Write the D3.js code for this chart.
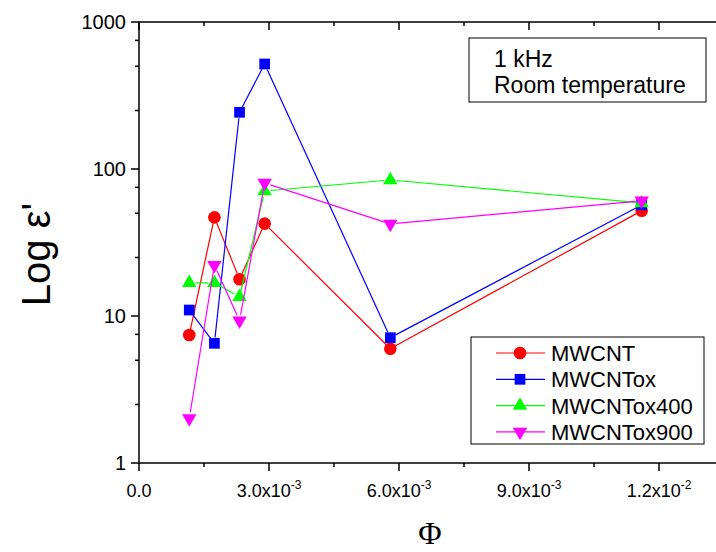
<!DOCTYPE html>
<html><head><meta charset="utf-8">
<script src="https://cdn.jsdelivr.net/npm/d3@7"></script>
<style>body{margin:0;background:#fff;} svg{display:block;font-family:Arial,"Liberation Sans",sans-serif;}</style>
</head><body>
<script>
const phi = [0.00116, 0.00174, 0.00232, 0.0029, 0.0058, 0.0116];
const mwcnt = [7.42, 46.9, 17.8, 42.5, 5.99, 52.0];
const mwcntox = [10.98, 6.52, 243, 518, 7.12, 57];
const mwcntox400 = [16.8, 16.8, 13.5, 70.8, 84.2, 58.7];
const mwcntox900 = [2.01, 22.2, 9.29, 80.3, 42.3, 60.8];
const seriesNames = ["MWCNT", "MWCNTox", "MWCNTox400", "MWCNTox900"];
const xTicks = [0, 0.003, 0.006, 0.009, 0.012];
const xTickLabels = [["0.0", ""], ["3.0x10", "-3"], ["6.0x10", "-3"], ["9.0x10", "-3"], ["1.2x10", "-2"]];
const yTicks = [1, 10, 100, 1000];
const infoLines = ["1 kHz", "Room temperature"];

const W = 716, H = 552;
const L = 139, T = 22, B = 463, R = 724;
const svg = d3.select("body").append("svg").attr("width", W).attr("height", H);

const x = d3.scaleLinear().domain([0, 0.0135]).range([L, R]);
const y = d3.scaleLog().domain([1, 1000]).range([B, T]);

const xMinor = d3.range(0, 0.0136, 0.0015).filter(v => Math.abs((v / 0.003) - Math.round(v / 0.003)) > 0.01);
const yMinor = [];
[1, 10, 100].forEach(d => [2.5, 5, 7.5].forEach(m => yMinor.push(d * m)));

// frame
svg.append("rect").attr("x", L).attr("y", T).attr("width", R - L).attr("height", B - T)
  .attr("fill", "none").attr("stroke", "#000").attr("stroke-width", 1.5);

function tickLines(g, vals, fn) {
  g.selectAll(null).data(vals).enter().append("line").each(function(d){ const c = fn(d); d3.select(this).attr("x1", c[0]).attr("y1", c[1]).attr("x2", c[2]).attr("y2", c[3]); })
    .attr("stroke", "#000").attr("stroke-width", 1.5);
}
const ax = svg.append("g");
tickLines(ax, xTicks, d => [x(d), B, x(d), B + 8]);
tickLines(ax, xMinor, d => [x(d), B, x(d), B + 4]);
tickLines(ax, xTicks, d => [x(d), T, x(d), T + 8]);
tickLines(ax, xMinor, d => [x(d), T, x(d), T + 4]);
tickLines(ax, yTicks, d => [L - 8, y(d), L, y(d)]);
tickLines(ax, yMinor, d => [L - 4, y(d), L, y(d)]);
tickLines(ax, yTicks, d => [R - 8, y(d), R, y(d)]);
tickLines(ax, yMinor, d => [R - 4, y(d), R, y(d)]);

// y tick labels
svg.append("g").selectAll("text").data(yTicks).enter().append("text")
  .attr("x", L - 13).attr("y", d => y(d)).attr("dy", "0.36em").attr("text-anchor", "end")
  .attr("font-size", 20).text(d => d);

// x tick labels
const xl = svg.append("g").selectAll("text").data(xTicks).enter().append("text")
  .attr("x", (d) => x(d)).attr("y", B + 34).attr("text-anchor", "middle").attr("font-size", 18);
xl.each(function(d, i) {
  const t = d3.select(this);
  t.append("tspan").text(xTickLabels[i][0]);
  if (xTickLabels[i][1]) t.append("tspan").attr("dy", -8).attr("font-size", 12).text(xTickLabels[i][1]);
});

// axis titles
svg.append("text").attr("transform", `translate(50,${(T + B) / 2 + 12}) rotate(-90)`)
  .attr("text-anchor", "middle").attr("font-size", 40).text("Log ε'");
svg.append("text").attr("x", 430).attr("y", 544).attr("text-anchor", "middle")
  .attr("font-family", "'Liberation Serif','Times New Roman',serif").attr("font-size", 32).text("Φ");

// series
const colors = ["#ff0000", "#0000ff", "#00ff00", "#ff00ff"];
const data = [mwcnt, mwcntox, mwcntox400, mwcntox900];
const symbols = [
  {type: d3.symbolCircle, size: 125, rot: 0},
  {type: d3.symbolSquare, size: 115, rot: 0},
  {type: d3.symbolTriangle, size: 90, rot: 0},
  {type: d3.symbolTriangle, size: 90, rot: 180}
];
const gap = 6;
data.forEach((vals, si) => {
  const pts = vals.map((v, i) => [x(phi[i]), y(v)]);
  const g = svg.append("g");
  for (let i = 0; i < pts.length - 1; i++) {
    const [x1, y1] = pts[i], [x2, y2] = pts[i + 1];
    const len = Math.hypot(x2 - x1, y2 - y1);
    if (len <= 2 * gap) continue;
    const ux = (x2 - x1) / len, uy = (y2 - y1) / len;
    g.append("line").attr("x1", x1 + ux * gap).attr("y1", y1 + uy * gap)
      .attr("x2", x2 - ux * gap).attr("y2", y2 - uy * gap)
      .attr("stroke", colors[si]).attr("stroke-width", 1.2);
  }
  const s = symbols[si];
  g.selectAll("path").data(pts).enter().append("path")
    .attr("d", d3.symbol().type(s.type).size(s.size))
    .attr("transform", d => `translate(${d[0]},${d[1]}) rotate(${s.rot})`)
    .attr("fill", colors[si]);
});

// info box
svg.append("rect").attr("x", 469).attr("y", 38).attr("width", 237).attr("height", 64)
  .attr("fill", "#fff").attr("stroke", "#000").attr("stroke-width", 1);
svg.append("g").selectAll("text").data(infoLines).enter().append("text")
  .attr("x", 494).attr("y", (d, i) => 67 + i * 26).attr("font-size", 23).text(d => d);

// legend
const lg = svg.append("g");
lg.append("rect").attr("x", 471).attr("y", 337).attr("width", 233).attr("height", 107)
  .attr("fill", "#fff").attr("stroke", "#000").attr("stroke-width", 1);
seriesNames.forEach((n, i) => {
  const cy = 353 + i * 26.3;
  lg.append("line").attr("x1", 496).attr("x2", 545).attr("y1", cy).attr("y2", cy)
    .attr("stroke", colors[i]).attr("stroke-width", 1.2);
  const s = symbols[i];
  lg.append("path").attr("d", d3.symbol().type(s.type).size(s.size))
    .attr("transform", `translate(520,${cy}) rotate(${s.rot})`).attr("fill", colors[i]);
  lg.append("text").attr("x", 551).attr("y", cy).attr("dy", "0.36em").attr("font-size", 22).text(n);
});
</script>
</body></html>
